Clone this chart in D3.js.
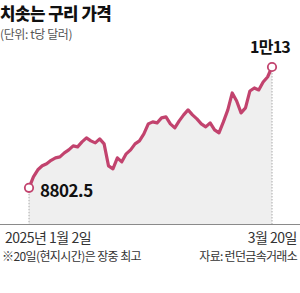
<!DOCTYPE html>
<html><head><meta charset="utf-8">
<script src="https://cdn.jsdelivr.net/npm/d3@7"></script>
<style>
html,body{margin:0;padding:0;background:#fff;}
svg{display:block;font-family:"Noto Sans CJK KR","Noto Sans",sans-serif;}
</style></head>
<body><svg id="c" width="300" height="293"></svg>
<script>
const dates = ["2025-01-02","2025-01-03","2025-01-06","2025-01-07","2025-01-08","2025-01-09","2025-01-10",
"2025-01-13","2025-01-14","2025-01-15","2025-01-16","2025-01-17","2025-01-20","2025-01-21","2025-01-22",
"2025-01-23","2025-01-24","2025-01-27","2025-01-28","2025-01-29","2025-01-30","2025-01-31",
"2025-02-03","2025-02-04","2025-02-05","2025-02-06","2025-02-07","2025-02-10","2025-02-11","2025-02-12",
"2025-02-13","2025-02-14","2025-02-17","2025-02-18","2025-02-19","2025-02-20","2025-02-21",
"2025-02-24","2025-02-25","2025-02-26","2025-02-27","2025-02-28",
"2025-03-03","2025-03-04","2025-03-05","2025-03-06","2025-03-07","2025-03-10","2025-03-11","2025-03-12",
"2025-03-13","2025-03-14","2025-03-17","2025-03-18","2025-03-19","2025-03-20"];
const prices = [8802.5,8913,8983,9023,9043,9078,9103,9113,9153,9183,9223,9213,9263,9303,9273,9253,9293,9243,
9023,8993,9103,9063,9143,9183,9243,9273,9343,9443,9463,9453,9503,9513,9443,9403,9473,9533,9583,9533,
9493,9443,9413,9453,9383,9353,9463,9583,9753,9673,9553,9603,9773,9803,9783,9863,9913,10013];
const startLabel = "8802.5";
const endLabel = "1만13";
const title = "치솟는 구리 가격";
const unit = "(단위: t당 달러)";
const xStartLabel = "2025년 1월 2일";
const xEndLabel = "3월 20일";
const note = "※20일(현지시간)은 장중 최고";
const source = "자료: 런던금속거래소";

const svg = d3.select("#c");
const color = "#c2436e";
const baseY = 224;
const x = d3.scalePoint().domain(dates).range([29, 272]);
const y = d3.scaleLinear().domain([8440, 10013]).range([baseY, 67]);
const data = dates.map((d,i)=>({d, v: prices[i]}));

svg.append("path").datum(data)
  .attr("d", d3.area().x(p=>x(p.d)).y0(baseY).y1(p=>y(p.v)))
  .attr("fill", "#efefef");

const first = data[0], last = data[data.length-1];
[first,last].forEach(p=>{
  svg.append("line").attr("x1",x(p.d)).attr("x2",x(p.d)).attr("y1",y(p.v)).attr("y2",baseY)
    .attr("stroke","#aaa").attr("stroke-width",1).attr("stroke-dasharray","1.5,1.5");
});

svg.append("line").attr("x1",0).attr("x2",300).attr("y1",baseY+0.5).attr("y2",baseY+0.5)
  .attr("stroke","#8a8a8a").attr("stroke-width",1);

svg.append("path").datum(data)
  .attr("d", d3.line().x(p=>x(p.d)).y(p=>y(p.v)))
  .attr("fill","none").attr("stroke",color).attr("stroke-width",3.2)
  .attr("stroke-linejoin","round").attr("stroke-linecap","round");

[first,last].forEach(p=>{
  svg.append("circle").attr("cx",x(p.d)).attr("cy",y(p.v)).attr("r",4.2)
    .attr("fill","#fff").attr("stroke",color).attr("stroke-width",1.8);
});

svg.append("text").attr("x",40).attr("y",y(first.v)+9).text(startLabel)
  .attr("font-size",17).attr("font-weight","bold").attr("fill","#111").attr("letter-spacing",-0.5);
svg.append("text").attr("x",x(last.d)-2).attr("y",53).attr("text-anchor","middle").text(endLabel)
  .attr("font-size",16).attr("font-weight","bold").attr("fill","#111").attr("letter-spacing",-0.8);

svg.append("text").attr("x",0).attr("y",19.5).text(title)
  .attr("font-size",16.8).attr("font-weight",900).attr("fill","#111").attr("letter-spacing",-0.5);
svg.append("text").attr("x",0).attr("y",39).text(unit)
  .attr("font-size",12).attr("fill","#555").attr("letter-spacing",-0.4);

svg.append("text").attr("x",5).attr("y",243).text(xStartLabel)
  .attr("font-size",14).attr("fill","#333").attr("letter-spacing",-0.5);
svg.append("text").attr("x",297).attr("y",243).attr("text-anchor","end").text(xEndLabel)
  .attr("font-size",14).attr("fill","#333").attr("letter-spacing",-0.5);
svg.append("text").attr("x",2).attr("y",261).text(note)
  .attr("font-size",12).attr("fill","#333").attr("letter-spacing",-0.6);
svg.append("text").attr("x",297).attr("y",261).attr("text-anchor","end").text(source)
  .attr("font-size",12).attr("fill","#333").attr("letter-spacing",-0.7);
</script></body></html>
